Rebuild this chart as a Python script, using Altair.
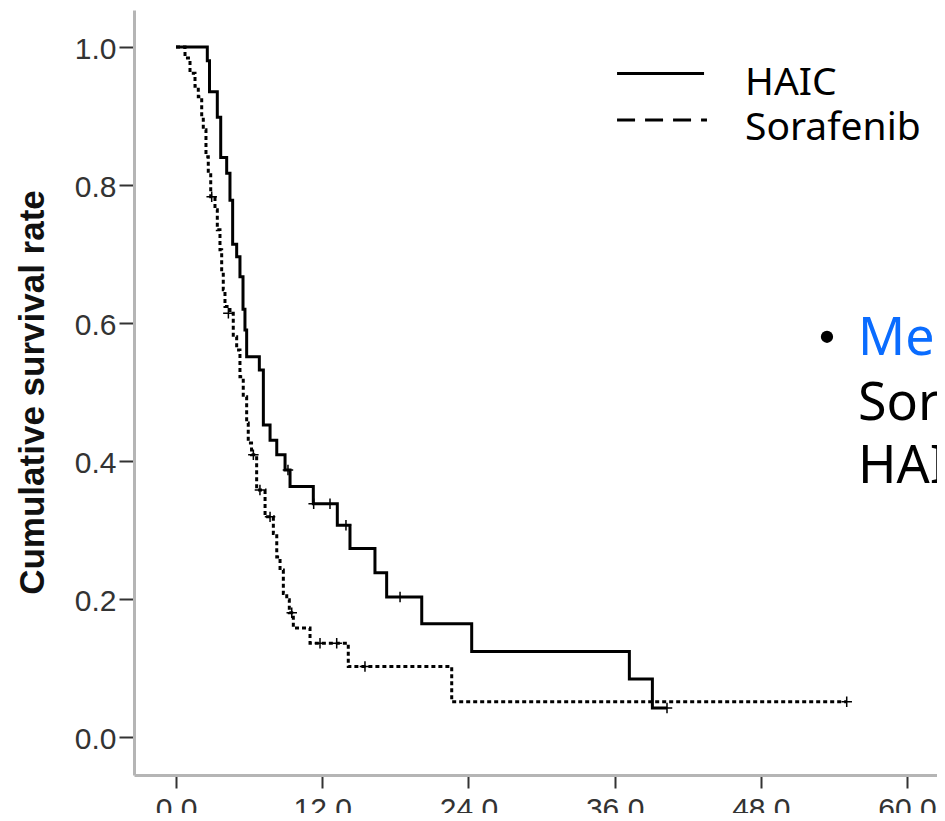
import altair as alt
import pandas as pd

# ---- data ----
haic_t = [0, 2.57, 2.75, 3.39, 3.67, 4.16, 4.43, 4.65, 4.98, 5.25,
          5.50, 5.66, 5.80, 6.84, 7.17, 7.72, 8.27, 8.95, 9.36, 11.27,
          13.24, 14.28, 16.33, 17.29, 20.17, 24.27, 37.21, 39.10, 40.3]
haic_s = [1.0, 0.98, 0.935, 0.898, 0.84, 0.817, 0.778, 0.714, 0.696, 0.667,
          0.62, 0.59, 0.551, 0.532, 0.452, 0.43, 0.409, 0.387, 0.363, 0.338,
          0.307, 0.273, 0.238, 0.203, 0.164, 0.124, 0.084, 0.042, 0.042]
haic_cens_t = [9.19, 11.3, 12.64, 13.95, 18.39, 40.3]
haic_cens_s = [0.387, 0.338, 0.338, 0.307, 0.203, 0.042]

sora_t = [0, 0.74, 1.15, 1.56, 1.83, 2.11, 2.24, 2.46, 2.65, 2.85,
          3.20, 3.39, 3.61, 3.75, 3.88, 4.02, 4.43, 4.70, 4.98, 5.25,
          5.52, 5.80, 5.93, 6.20, 6.62, 7.31, 7.99, 8.27, 8.54, 8.81,
          9.09, 9.30, 9.63, 11.0, 14.14, 22.63, 55.05]
sora_s = [1.0, 0.984, 0.962, 0.943, 0.928, 0.899, 0.880, 0.841, 0.817, 0.783,
          0.764, 0.735, 0.706, 0.677, 0.648, 0.624, 0.614, 0.580, 0.561, 0.522,
          0.493, 0.455, 0.426, 0.409, 0.358, 0.319, 0.295, 0.261, 0.242, 0.208,
          0.199, 0.18, 0.158, 0.136, 0.102, 0.051, 0.051]
sora_cens_t = [2.93, 4.30, 6.35, 6.89, 7.72, 9.50, 11.82, 13.19, 15.51, 55.05]
sora_cens_s = [0.783, 0.614, 0.409, 0.358, 0.319, 0.18, 0.136, 0.136, 0.102, 0.051]

x_ticks = [0, 12, 24, 36, 48, 60]
y_ticks = [0.0, 0.2, 0.4, 0.6, 0.8, 1.0]

legend_names = ["HAIC", "Sorafenib"]
legend_x0 = [36.2, 36.2]
legend_x1 = [43.34, 43.58]
legend_y = [0.9616, 0.894]
legend_text_x = [46.7, 46.7]
legend_text_y = [0.930, 0.865]

note_lines = ["Median", "Sorafenib", "HAIC"]
note_colors = ["#0A6CFF", "#000000", "#000000"]
note_x = [55.98, 55.98, 55.98]
note_y = [0.5536, 0.4594, 0.368]
bullet_x = [53.43]
bullet_y = [0.580]

# ---- tables ----
haic = pd.DataFrame({"t": haic_t, "s": haic_s})
sora = pd.DataFrame({"t": sora_t, "s": sora_s})
haic_c = pd.DataFrame({"t": haic_cens_t, "s": haic_cens_s})
sora_c = pd.DataFrame({"t": sora_cens_t, "s": sora_cens_s})
leg = pd.DataFrame({"name": legend_names, "t": legend_x0, "t2": legend_x1,
                    "s": legend_y, "tx": legend_text_x, "ty": legend_text_y})
notes = pd.DataFrame({"label": note_lines, "c": note_colors, "t": note_x, "s": note_y})
bullet = pd.DataFrame({"t": bullet_x, "s": bullet_y})

xscale = alt.Scale(domain=[-3.447, 62.46], nice=False, zero=False)
yscale = alt.Scale(domain=[-0.0551, 1.0536], nice=False, zero=False)

X = alt.X("t:Q", scale=xscale,
          axis=alt.Axis(values=x_ticks, format=".1f", title=None, grid=False,
                        tickSize=13, labelPadding=6, labelFlush=False,
                        labelOverlap=False))
Y = alt.Y("s:Q", scale=yscale,
          axis=alt.Axis(values=y_ticks, format=".1f", title="Cumulative survival rate",
                        grid=False, tickSize=15, labelPadding=3, labelOffset=3,
                        titleX=-91, titleY=382, titleAngle=270,
                        titleBaseline="alphabetic", titleAlign="center"))

plus = "M-1,0H1M0,-1V1"

l_haic = alt.Chart(haic).mark_line(interpolate="step-after", color="black",
                                   strokeWidth=3).encode(x=X, y=Y)
l_sora = alt.Chart(sora).mark_line(interpolate="step-after", color="black",
                                   strokeWidth=3, strokeDash=[4, 3]).encode(x=X, y=Y)
c_haic = alt.Chart(haic_c).mark_point(shape=plus, filled=False, color="black",
                                      strokeWidth=1.5, size=110, opacity=1).encode(x=X, y=Y)
c_sora = alt.Chart(sora_c).mark_point(shape=plus, filled=False, color="black",
                                      strokeWidth=1.5, size=110, opacity=1).encode(x=X, y=Y)

leg_solid = alt.Chart(leg.iloc[[0]]).mark_rule(color="black", strokeWidth=3).encode(
    x=X, x2="t2:Q", y=Y)
leg_dash = alt.Chart(leg.iloc[[1]]).mark_rule(color="black", strokeWidth=3,
                                              strokeDash=[18, 10]).encode(x=X, x2="t2:Q", y=Y)
leg_text = alt.Chart(leg).mark_text(align="left", baseline="alphabetic", fontSize=39,
                                    font="Noto Sans", color="black").encode(
    x=alt.X("tx:Q", scale=xscale), y=alt.Y("ty:Q", scale=yscale), text="name:N")

note_text = alt.Chart(notes).mark_text(align="left", baseline="alphabetic", fontSize=52,
                                       font="Noto Sans", clip=True).encode(
    x=X, y=Y, text="label:N", color=alt.Color("c:N", scale=None))
bullet_pt = alt.Chart(bullet).mark_point(shape="circle", filled=True, color="black",
                                         size=150, opacity=1).encode(x=X, y=Y)

chart = alt.layer(l_haic, l_sora, c_haic, c_sora, leg_solid, leg_dash, leg_text,
                  note_text, bullet_pt).properties(
    width=803, height=765,
    autosize=alt.AutoSizeParams(type="none"),
    padding={"left": 126, "top": 2, "right": 0, "bottom": 38},
    background="white",
).configure_view(stroke=None).configure_axis(
    domainColor="#b5b5b5", domainWidth=3,
    tickColor="#333333", tickWidth=2,
    labelFont="Liberation Sans", labelFontSize=30, labelColor="#333333",
    titleFont="Liberation Sans", titleFontSize=35, titleFontWeight="bold",
    titleColor="#111111",
)

chart.save("out.html", embed_options={"renderer": "svg", "actions": False})
